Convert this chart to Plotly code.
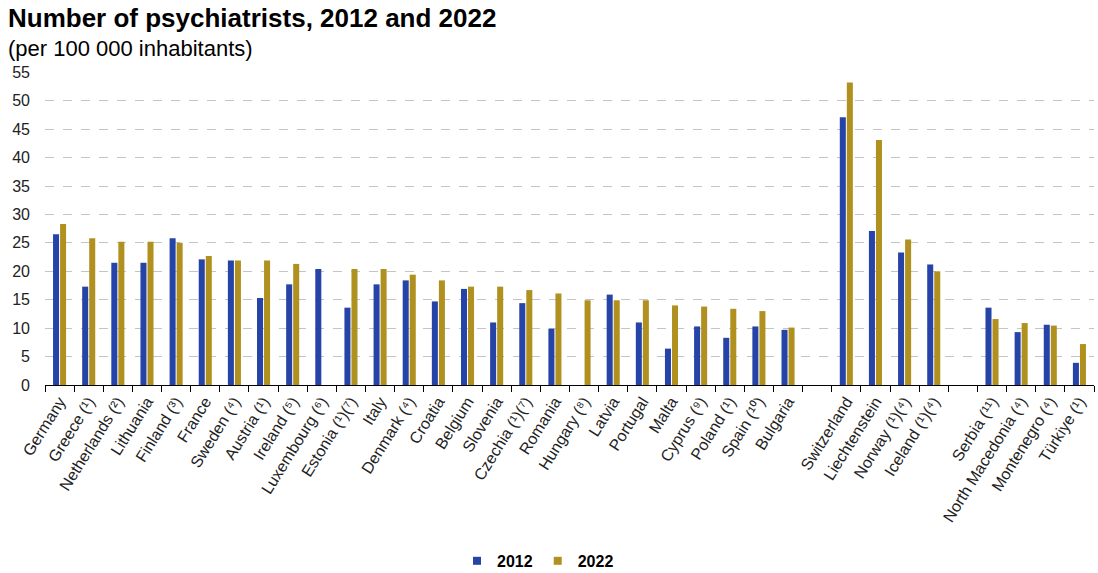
import plotly.graph_objects as go

categories = [
    "Germany", "Greece (¹)", "Netherlands (²)", "Lithuania", "Finland (³)", "France",
    "Sweden (⁴)", "Austria (¹)", "Ireland (⁵)", "Luxembourg (⁶)", "Estonia (¹)(⁷)", "Italy",
    "Denmark (⁴)", "Croatia", "Belgium", "Slovenia", "Czechia (¹)(⁷)", "Romania",
    "Hungary (⁸)", "Latvia", "Portugal", "Malta", "Cyprus (⁹)", "Poland (¹)",
    "Spain (¹⁰)", "Bulgaria", " ",
    "Switzerland", "Liechtenstein", "Norway (¹)(⁴)", "Iceland (¹)(⁴)", "  ",
    "Serbia (¹¹)", "North Macedonia (⁴)", "Montenegro (⁴)", "Türkiye (¹)",
]

values_2012 = [
    26.5, 17.3, 21.5, 21.5, 25.8, 22.1,
    21.9, 15.3, 17.7, 20.4, 13.6, 17.7,
    18.4, 14.7, 16.9, 11.0, 14.4, 9.9,
    None, 15.9, 11.0, 6.4, 10.3, 8.3,
    10.3, 9.7, None,
    47.1, 27.1, 23.3, 21.2, None,
    13.6, 9.3, 10.6, 3.9,
]

values_2022 = [
    28.3, 25.8, 25.2, 25.2, 25.0, 22.7,
    21.9, 21.9, 21.3, None, 20.4, 20.4,
    19.4, 18.4, 17.3, 17.3, 16.7, 16.1,
    14.9, 14.9, 14.9, 14.0, 13.8, 13.4,
    13.0, 10.1, None,
    53.2, 43.1, 25.6, 20.0, None,
    11.6, 10.9, 10.45, 7.2,
]

series_names = ["2012", "2022"]
colors = ["#2644A7", "#B09120"]

FONT = "Liberation Sans, Arial, sans-serif"

fig = go.Figure()
for name, vals, col in zip(series_names, [values_2012, values_2022], colors):
    fig.add_trace(go.Bar(
        x=categories, y=vals, name=name, showlegend=False,
        marker=dict(color=col, line=dict(width=0)),
    ))
# legend entries with small square symbols
for name, col in zip(series_names, colors):
    fig.add_trace(go.Scatter(
        x=[None], y=[None], name=name, mode="markers",
        marker=dict(symbol="square", size=8, color=col),
        showlegend=True, hoverinfo="skip",
    ))

fig.update_layout(
    width=1098, height=573,
    paper_bgcolor="white", plot_bgcolor="white",
    font=dict(family=FONT, color="#222222"),
    barmode="group",
    bargap=0.517,
    bargroupgap=0.143,
    margin=dict(l=45, r=4, t=72, b=188, autoexpand=False),
    showlegend=True,
    legend=dict(
        orientation="h", x=0.47, xanchor="center", y=-0.562, yanchor="middle",
        font=dict(family=FONT, size=16, color="#000000", weight="bold"),
        itemwidth=30, tracegroupgap=0, bgcolor="rgba(0,0,0,0)",
    ),
    annotations=[
        dict(text="<b>Number of psychiatrists, 2012 and 2022</b>",
             xref="paper", yref="paper", x=-0.0372, y=1.226,
             xanchor="left", yanchor="top", showarrow=False,
             font=dict(family=FONT, size=26, color="#000000")),
        dict(text="(per 100 000 inhabitants)",
             xref="paper", yref="paper", x=-0.0372, y=1.12,
             xanchor="left", yanchor="top", showarrow=False,
             font=dict(family=FONT, size=22, color="#000000")),
    ],
)

fig.update_xaxes(
    type="category",
    categoryorder="array", categoryarray=categories,
    range=[-0.5, len(categories) - 0.5],
    tickson="boundaries",
    ticks="outside", ticklen=6, tickcolor="#000000", tickwidth=1,
    showline=True, linecolor="#000000", linewidth=1,
    showgrid=False,
    tickangle=-58,
    tickfont=dict(family=FONT, size=16, color="#222222"),
)

fig.update_yaxes(
    range=[0, 55.05],
    tick0=0, dtick=5,
    showgrid=True, gridcolor="#C4C4C4", griddash="dash", gridwidth=1,
    zeroline=False,
    showline=False,
    ticks="",
    ticklabelstandoff=14,
    tickfont=dict(family=FONT, size=16, color="#222222"),
)

fig.write_html(
    "out.html",
    config={"displayModeBar": False},
    post_script="document.body.style.margin='0';document.body.style.overflow='hidden';",
)
